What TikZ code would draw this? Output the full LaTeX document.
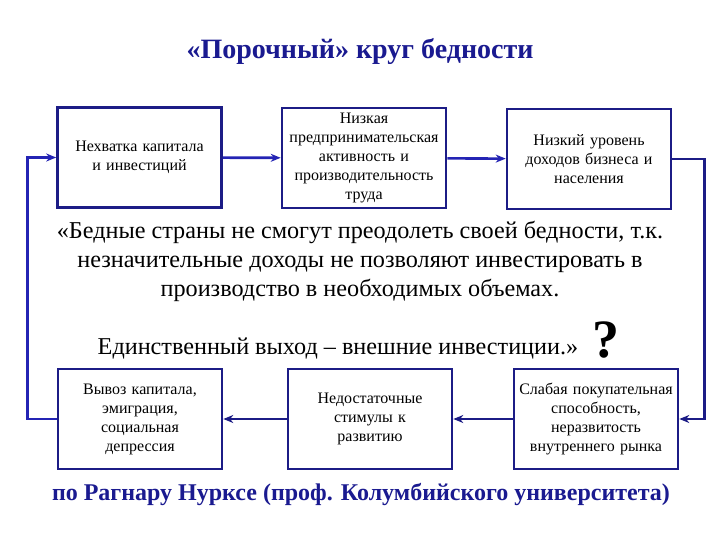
\documentclass[tikz,border=0pt]{standalone}
\usepackage{fontspec}
\setmainfont{Liberation Serif}
\usepackage{xcolor}
\definecolor{boxNavy}{HTML}{1C1C86}
\definecolor{arrBlue}{HTML}{2424B4}
\definecolor{headBlue}{HTML}{1A1A90}
\usetikzlibrary{arrows.meta}

\begin{document}
\begin{tikzpicture}[x=1pt, y=-1pt,
    cbox/.style={draw=boxNavy, line width=2.6pt, fill=white, minimum width=164pt,
      minimum height=100pt, align=center, text width=160pt, inner sep=1pt,
      font=\fontsize{16}{19}\selectfont},
    arr/.style={draw=arrBlue, line width=2.6pt, -{Stealth[length=10pt, width=8pt]}}]
  \useasboundingbox[fill=white] (0,0) rectangle (720,540);
  % ---- title ----
  \node[text=headBlue, font=\fontsize{28}{32}\selectfont\bfseries] (title) at (360,52)
    {«Порочный» круг бедности};
  % ---- upper row ----
  \node[cbox] (capital) at (139.5,157.5) {Нехватка капитала\\ и инвестиций};
  \node[cbox] (activity) at (364,158) {Низкая\\ предпринимательская\\ активность и\\ производительность\\ труда};
  \node[cbox] (income) at (589,159) {Низкий уровень\\ доходов бизнеса и\\ населения};
  % ---- lower row ----
  \node[cbox] (outflow) at (140,419) {Вывоз капитала,\\ эмиграция,\\ социальная\\ депрессия};
  \node[cbox] (stimuli) at (370,419) {Недостаточные\\ стимулы к\\ развитию};
  \node[cbox] (demand) at (596,419) {Слабая покупательная\\ способность,\\ неразвитость\\ внутреннего рынка};
  % ---- quote ----
  \node[align=center, font=\fontsize{24.2}{29}\selectfont] (quote) at (360,261)
    {«Бедные страны не смогут преодолеть своей бедности, т.к.\\
     незначительные доходы не позволяют инвестировать в\\
     производство в необходимых объемах.};
  \node[font=\fontsize{24.2}{29}\selectfont] (exit) at (338,349)
    {Единственный выход – внешние инвестиции.»};
  \node[font=\fontsize{54}{58}\selectfont\bfseries] (ask) at (606,340) {?};
  % ---- source ----
  \node[text=headBlue, font=\fontsize{24}{28}\selectfont\bfseries] (source) at (361,494)
    {по Рагнару Нурксе (проф. Колумбийского университета)};
  % ---- the circle ----
  \draw[arr] (capital) -- (activity);
  \draw[arr] (activity) -- (income);
  \draw[arr, draw=boxNavy] (income.east) -- ++(32,0) |- (demand.east);
  \draw[arr, draw=boxNavy] (demand) -- (stimuli);
  \draw[arr, draw=boxNavy] (stimuli) -- (outflow);
  \draw[arr] (outflow.west) -- ++(-29,0) |- (capital.west);
\end{tikzpicture}
\end{document}
